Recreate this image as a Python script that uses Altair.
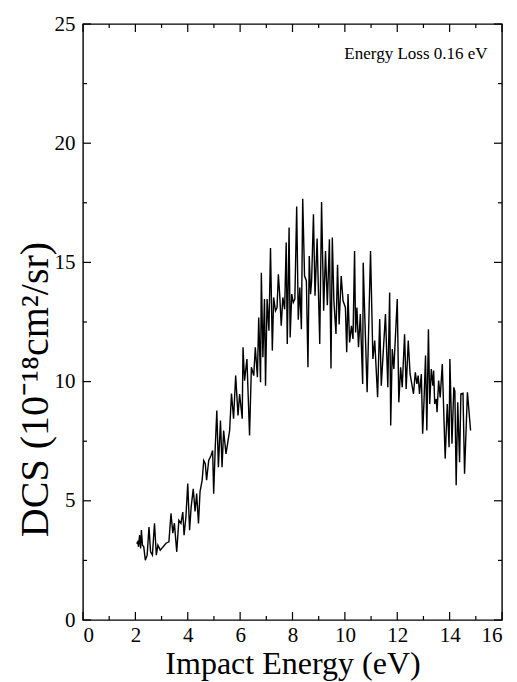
import altair as alt
import pandas as pd

# ---- data ----
energy = [2.05, 2.09, 2.12, 2.16, 2.20, 2.23, 2.27, 2.32, 2.38, 2.45, 2.52, 2.58, 2.65, 2.73, 2.80,
          2.86, 2.95, 3.17, 3.28, 3.36, 3.43, 3.49, 3.58, 3.66, 3.74, 3.81, 3.86, 3.93, 4.00, 4.07,
          4.13, 4.21, 4.28, 4.34, 4.41, 4.47, 4.55, 4.61, 4.67, 4.72, 4.80, 4.89, 4.95, 4.99, 5.05,
          5.11, 5.17, 5.25, 5.31, 5.37, 5.46, 5.60, 5.67, 5.75, 5.83, 5.92, 5.98, 6.08, 6.11, 6.17,
          6.26, 6.36, 6.43, 6.52, 6.58, 6.66, 6.71, 6.78, 6.81, 6.87, 6.93, 6.97, 7.03, 7.10, 7.16,
          7.23, 7.28, 7.35, 7.41, 7.46, 7.51, 7.57, 7.63, 7.70, 7.76, 7.80, 7.87, 7.91, 7.97, 8.03,
          8.09, 8.16, 8.22, 8.28, 8.34, 8.39, 8.46, 8.53, 8.59, 8.64, 8.69, 8.73, 8.80, 8.86, 8.94,
          9.04, 9.11, 9.19, 9.26, 9.33, 9.41, 9.47, 9.52, 9.58, 9.66, 9.72, 9.78, 9.86, 9.93, 10.02,
          10.07, 10.12, 10.18, 10.25, 10.31, 10.37, 10.41, 10.46, 10.52, 10.59, 10.68, 10.70, 10.75, 10.85, 10.98,
          11.07, 11.14, 11.25, 11.33, 11.39, 11.55, 11.64, 11.71, 11.75, 11.81, 11.87, 12.00, 12.06, 12.13, 12.19,
          12.28, 12.34, 12.42, 12.49, 12.62, 12.69, 12.75, 12.80, 12.85, 12.92, 12.97, 13.02, 13.08, 13.13, 13.19,
          13.24, 13.30, 13.36, 13.39, 13.43, 13.49, 13.52, 13.58, 13.64, 13.72, 13.83, 13.91, 13.98, 14.01, 14.09,
          14.16, 14.20, 14.25, 14.31, 14.38, 14.43, 14.51, 14.57, 14.68, 14.80]
dcs = [3.20, 3.28, 3.07, 3.56, 3.00, 3.77, 3.14, 3.07, 2.51, 2.72, 3.90, 2.86, 2.72, 4.06, 2.72,
       3.14, 2.93, 3.22, 3.28, 4.47, 3.64, 4.06, 2.86, 4.18, 4.05, 4.53, 3.56, 4.32, 5.72, 3.77,
       4.74, 5.50, 4.55, 5.30, 4.05, 5.40, 5.86, 6.69, 6.56, 5.86, 6.69, 6.90, 7.11, 5.30, 7.25,
       8.79, 6.41, 8.37, 6.41, 7.95, 6.97, 7.95, 9.50, 8.44, 10.25, 8.58, 9.48, 8.44, 11.44, 10.04,
       10.95, 7.74, 10.60, 10.25, 11.44, 10.18, 12.69, 9.97, 14.57, 11.02, 13.46, 9.83, 13.46, 12.13, 15.60,
       11.30, 13.53, 12.97, 13.11, 14.50, 13.67, 12.34, 13.53, 13.04, 15.83, 11.58, 16.46, 11.85, 13.67, 13.32,
       13.46, 17.34, 12.60, 13.95, 12.20, 17.67, 14.43, 14.23, 10.60, 15.27, 13.67, 14.23, 17.02, 13.60, 16.00,
       11.58, 17.53, 12.97, 15.48, 13.20, 15.97, 10.55, 16.04, 13.40, 12.00, 14.90, 12.40, 14.43, 13.39, 13.11,
       11.23, 13.67, 11.64, 12.34, 11.79, 15.48, 12.06, 13.11, 11.44, 12.83, 9.90, 14.99, 13.11, 9.55, 15.48,
       10.95, 11.72, 9.34, 12.62, 9.83, 12.83, 9.76, 13.74, 8.16, 11.37, 10.53, 13.46, 9.13, 10.60, 9.76,
       11.99, 9.69, 11.72, 10.32, 9.48, 10.39, 9.90, 10.25, 9.48, 10.32, 7.81, 9.13, 11.09, 7.95, 12.20,
       9.06, 10.53, 9.83, 10.46, 9.06, 9.27, 8.72, 10.04, 9.34, 10.74, 6.77, 9.06, 7.25, 10.95, 7.39,
       9.76, 9.60, 5.65, 9.13, 6.62, 9.48, 9.51, 6.14, 9.55, 7.95]

x_major = [0, 2, 4, 6, 8, 10, 12, 14, 16]
x_minor = [1, 3, 5, 7, 9, 11, 13, 15]
y_major = [0, 5, 10, 15, 20, 25]
y_minor = [2.5, 7.5, 12.5, 17.5, 22.5]

label_text = ["Energy Loss 0.16 eV"]
label_x = [15.45]
label_y = [23.55]

# ---- chart ----
W, H = 419, 596
FONT = "Liberation Serif"
xs = alt.Scale(domain=[0, 16], nice=False, zero=False)
ys = alt.Scale(domain=[0, 25], nice=False, zero=False)

df = pd.DataFrame({"energy": energy, "dcs": dcs})

line = alt.Chart(df).mark_line(color="black", strokeWidth=1.4).encode(
    x=alt.X("energy:Q", scale=xs, axis=alt.Axis(
        values=x_major, title="Impact Energy (eV)", format="d",
        grid=False, domain=False, ticks=False, tickSize=0,
        labelFont=FONT, labelFontSize=21, labelColor="black",
        labelBaseline="alphabetic", labelPadding=21,
        titleFont=FONT, titleFontSize=32, titleFontWeight="normal", titleColor="black",
        titleBaseline="alphabetic", titleY=53, titleX=W / 2)),
    y=alt.Y("dcs:Q", scale=ys, axis=alt.Axis(
        values=y_major, title="DCS (10⁻¹⁸cm²/sr)", format="d",
        grid=False, domain=False, ticks=False, tickSize=0,
        labelFont=FONT, labelFontSize=21, labelColor="black", labelPadding=8,
        titleFont=FONT, titleFontSize=40, titleFontWeight="normal", titleColor="black",
        titleAngle=270, titleBaseline="alphabetic", titleAlign="center",
        titleX=-36, titleY=365)),
)


def xticks(vals, length, top):
    d = pd.DataFrame({"v": vals})
    return alt.Chart(d).mark_rule(color="black", strokeWidth=1.2).encode(
        x=alt.X("v:Q", scale=xs, axis=None),
        y=alt.value(0 if top else H),
        y2=alt.value(length if top else H - length),
    )


def yticks(vals, length, right):
    d = pd.DataFrame({"v": vals})
    return alt.Chart(d).mark_rule(color="black", strokeWidth=1.2).encode(
        y=alt.Y("v:Q", scale=ys, axis=None),
        x=alt.value(W if right else 0),
        x2=alt.value(W - length if right else length),
    )


ann = alt.Chart(pd.DataFrame({"x": label_x, "y": label_y, "t": label_text})).mark_text(
    align="right", baseline="alphabetic", font=FONT, fontSize=17, color="black"
).encode(
    x=alt.X("x:Q", scale=xs, axis=None),
    y=alt.Y("y:Q", scale=ys, axis=None),
    text="t:N",
)

chart = alt.layer(
    line,
    xticks(x_major, 8, False), xticks(x_minor, 4, False),
    xticks(x_major, 8, True), xticks(x_minor, 4, True),
    yticks(y_major, 8, False), yticks(y_minor, 4, False),
    yticks(y_major, 8, True), yticks(y_minor, 4, True),
    ann,
).resolve_axis(x="independent", y="independent").properties(
    width=W, height=H,
    autosize=alt.AutoSizeParams(type="none"),
    padding={"left": 75, "top": 16, "right": 7, "bottom": 62},
).configure_view(stroke="black", strokeWidth=1.4)

chart.save("out.html", embed_options={"renderer": "svg", "actions": False})
